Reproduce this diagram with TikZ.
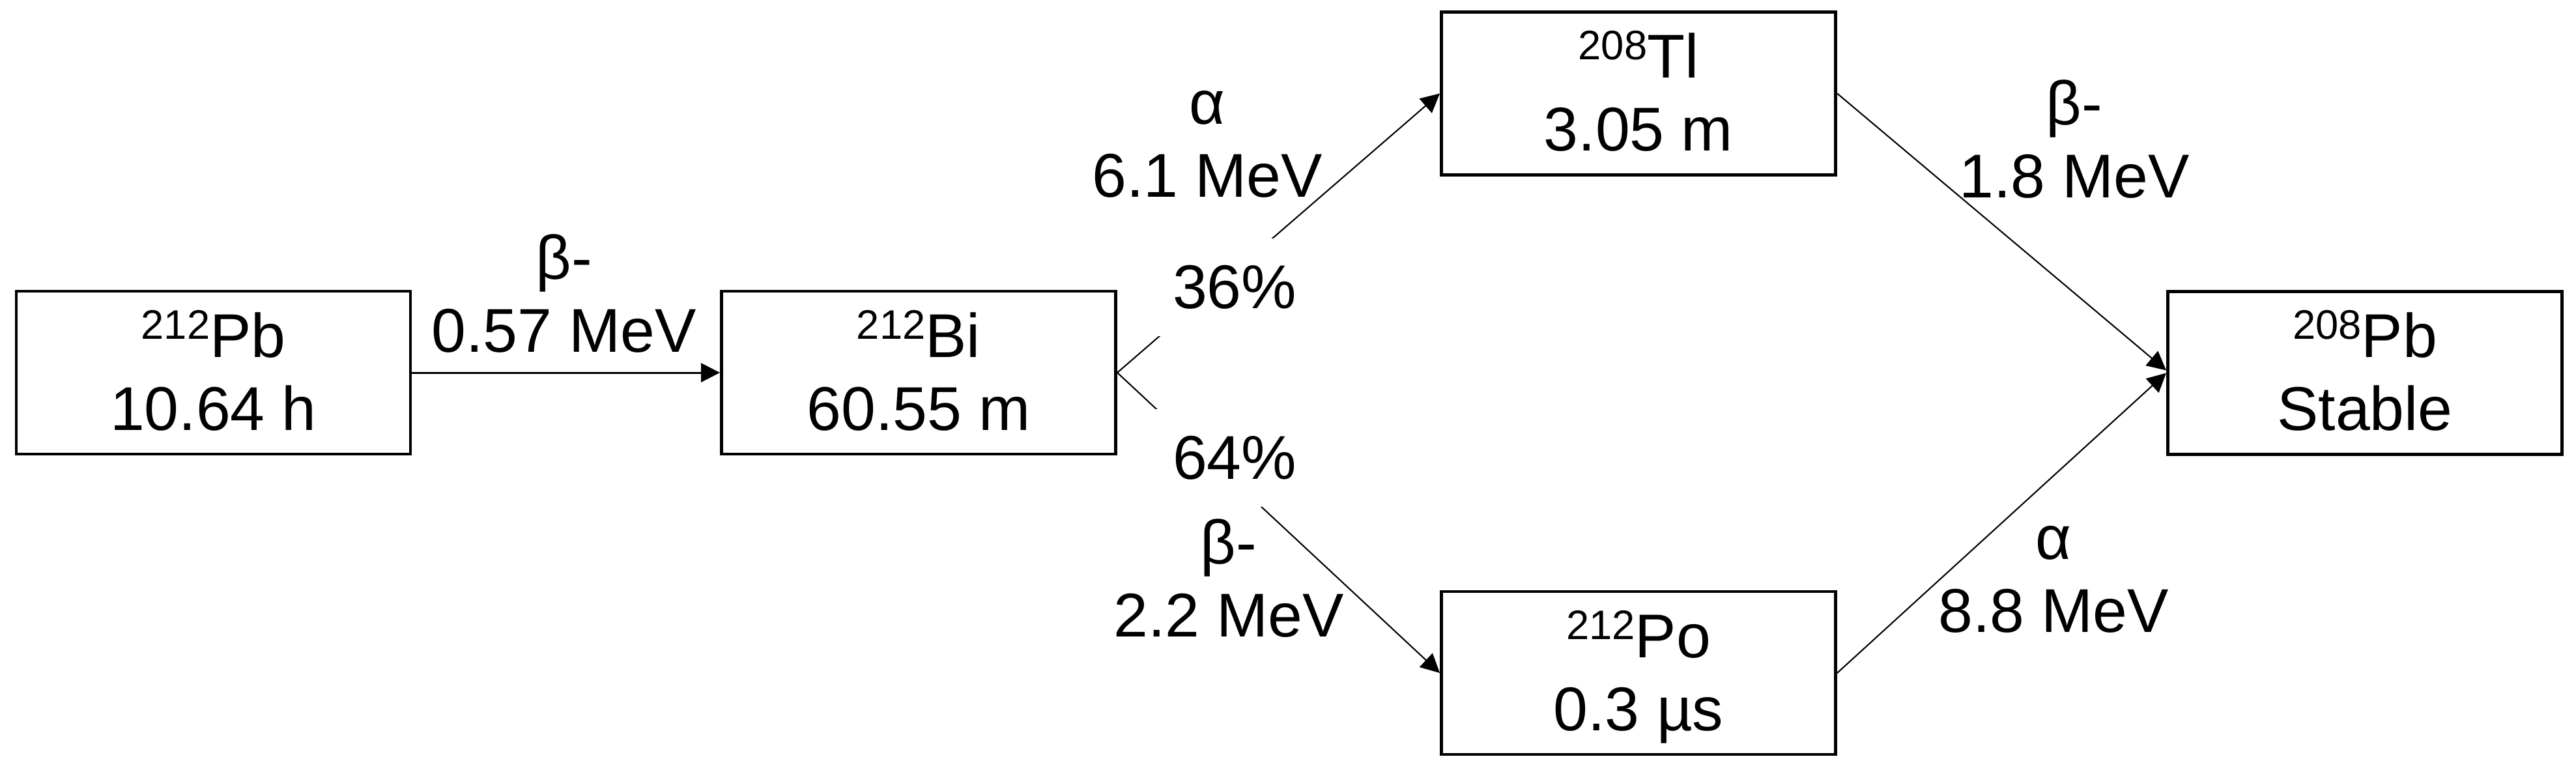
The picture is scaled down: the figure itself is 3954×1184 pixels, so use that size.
\documentclass[tikz,border=0pt]{standalone}
\usepackage{fontspec}
\setmainfont{Liberation Sans}
\usetikzlibrary{arrows.meta}
\newcommand\isosup[1]{\raisebox{8pt}{\fontsize{18pt}{18pt}\selectfont #1}}
\newcommand\topst{\rule{0pt}{0.9em}}
\newcommand\botst{\rule[-0.22em]{0pt}{0.22em}}
\newcommand\ltop{\rule{0pt}{0.8em}}
\newcommand\lbot{\rule[-0.25em]{0pt}{0.25em}}
\tikzset{
  isobox/.style={draw, line width=1.31pt, minimum width=6.05cm, minimum height=2.5cm,
    inner sep=0pt, align=center},
  lab/.style={align=center, inner sep=0pt},
  pct/.style={fill=white, minimum width=2.5cm, minimum height=1.5cm, inner sep=0pt},
  decay/.style={line width=0.6pt, -{Triangle[length=0.29cm, width=0.29cm]}},
  split/.style={line width=0.6pt}
}
\begin{document}
\begin{tikzpicture}[x=0.01cm, y=-0.01cm, font=\fontsize{27pt}{31.87pt}\selectfont]
\useasboundingbox (0,0) rectangle (3954,1184);

\node[isobox] (pbA) at (327.5,572) {\topst\isosup{212}Pb\\10.64 h\botst};
\node[isobox] (bi)  at (1410,572) {\topst\isosup{212}Bi\\60.55 m\botst};
\node[isobox] (tl)  at (2515,143.5) {\topst\isosup{208}Tl\\3.05 m\botst};
\node[isobox] (po)  at (2515,1033) {\topst\isosup{212}Po\\0.3 µs\botst};
\node[isobox] (pbB) at (3630,572.5) {\topst\isosup{208}Pb\\Stable\botst};

\draw[decay, line width=0.85pt] (pbA.east) -- (bi.west);
\draw[decay] (bi.east) -- (tl.west);
\draw[decay] (bi.east) -- (po.west);
\draw[decay] (tl.east) -- ([yshift=0.04cm]pbB.west);
\draw[decay] (po.east) -- (pbB.west);

\node[pct] (p36) at (1895,441) {36\%};
\node[pct] (p64) at (1895,703) {64\%};

\node[lab] (l1) at (866,458) {\ltop β-\\0.57 MeV\lbot};
\node[lab] (l2) at (1853,220) {\ltop α\\6.1 MeV\lbot};
\node[lab] (l3) at (1886,895) {\ltop β-\\2.2 MeV\lbot};
\node[lab] (l4) at (3184,221) {\ltop β-\\1.8 MeV\lbot};
\node[lab] (l5) at (3152,888) {\ltop α\\8.8 MeV\lbot};
\end{tikzpicture}
\end{document}
